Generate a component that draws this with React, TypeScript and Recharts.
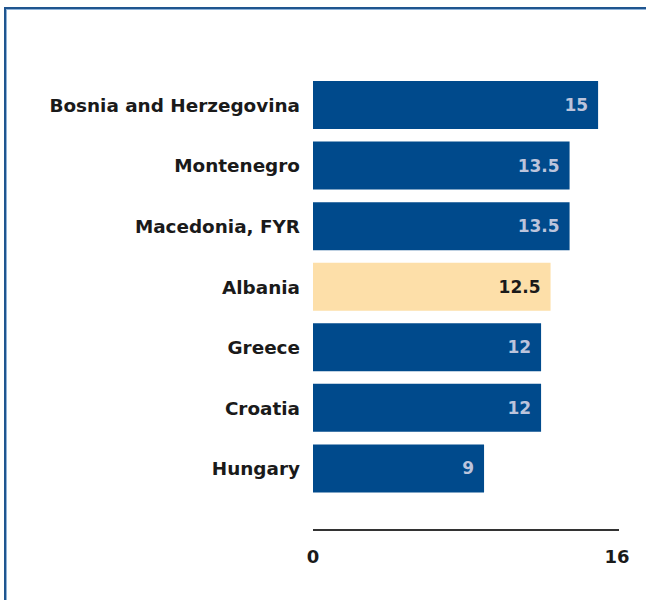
import React from "react";
import { BarChart, Bar, XAxis, YAxis, Cell, LabelList } from "recharts";

const countries = [
  "Bosnia and Herzegovina",
  "Montenegro",
  "Macedonia, FYR",
  "Albania",
  "Greece",
  "Croatia",
  "Hungary",
];
const values = [15, 13.5, 13.5, 12.5, 12, 12, 9];
const highlighted = "Albania";
const axisTicks = [0, 16];

const data = countries.map((name, i) => ({ name, value: values[i] }));

const FONT = "'DejaVu Sans', sans-serif";
const BLUE = "#004a8c";
const SAND = "#fddfa9";

const ValueLabel = (props: any) => {
  const { x, y, width, height, value, index } = props;
  const isHi = countries[index] === highlighted;
  return (
    <text
      x={x + width - 10}
      y={y + height / 2}
      textAnchor="end"
      dominantBaseline="central"
      fontFamily={FONT}
      fontWeight="bold"
      fontSize={17}
      fill={isHi ? "#1a1a1a" : "#bcc4dc"}
    >
      {value}
    </text>
  );
};

export default function App() {
  return (
    <div style={{ position: "absolute", left: 0, top: 0, width: 646, height: 600, background: "#fff" }}>
      <div style={{ position: "absolute", left: 4, top: 7, width: 642, height: 2, background: "#1f558f" }} />
      <div style={{ position: "absolute", left: 4, top: 9, width: 642, height: 1, background: "#8fb3d9" }} />
      <div style={{ position: "absolute", left: 4, top: 7, width: 2, height: 593, background: "#1f558f" }} />
      <div style={{ position: "absolute", left: 6, top: 9, width: 1, height: 591, background: "#8fb3d9" }} />
      <div style={{ position: "absolute", left: 0, top: 0 }}>
        <BarChart
          width={646}
          height={600}
          data={data}
          layout="vertical"
          margin={{ top: 75, right: 27, bottom: 0, left: 0 }}
        >
          <XAxis
            type="number"
            domain={[0, 16.1]}
            ticks={axisTicks}
            height={70}
            axisLine={{ stroke: "#333", strokeWidth: 2 }}
            tickLine={false}
            tickSize={6}
            tickMargin={14}
            tick={{ fontFamily: FONT, fontWeight: "bold", fontSize: 18, fill: "#1a1a1a" }}
          />
          <YAxis
            type="category"
            dataKey="name"
            width={313}
            axisLine={false}
            tickLine={false}
            tickMargin={7}
            padding={{ top: 0, bottom: 31 }}
            tick={{ fontFamily: FONT, fontWeight: "bold", fontSize: 18.4, fill: "#1a1a1a" }}
          />
          <Bar dataKey="value" barSize={48} isAnimationActive={false}>
            {data.map((d) => (
              <Cell key={d.name} fill={d.name === highlighted ? SAND : BLUE} />
            ))}
            <LabelList dataKey="value" content={<ValueLabel />} />
          </Bar>
        </BarChart>
      </div>
    </div>
  );
}
